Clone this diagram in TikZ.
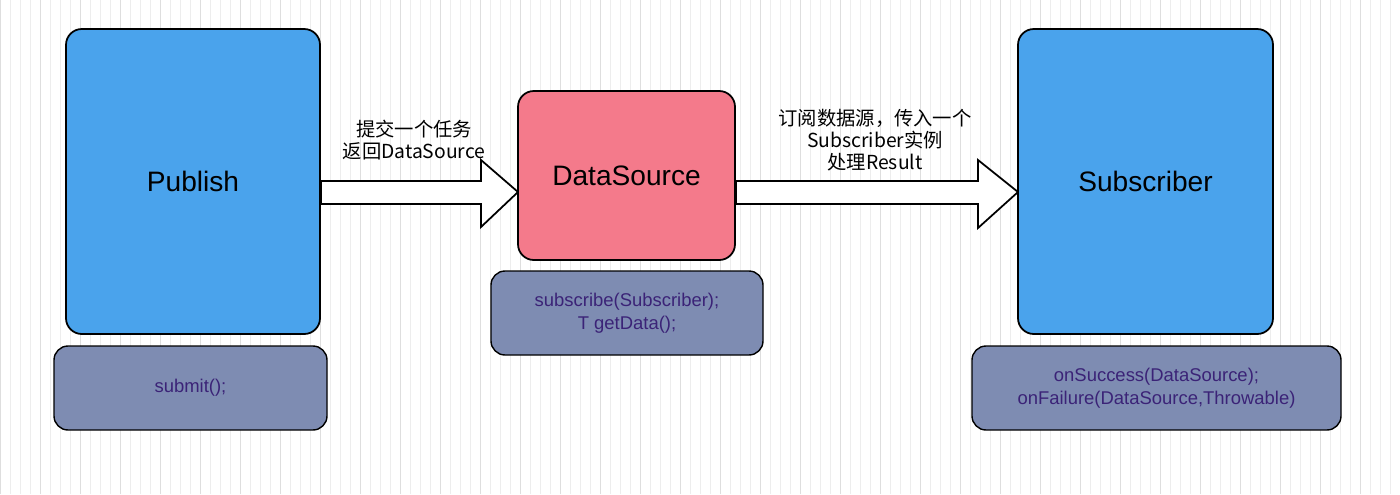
\documentclass[tikz,border=0pt]{standalone}
\usepackage{fontspec}
\setmainfont{Liberation Sans}
\newfontfamily\cjk{Noto Sans CJK SC}
\begin{document}
\begin{tikzpicture}[x=0.02cm,y=-0.02cm,
 big/.style={draw=black,line width=1pt,rounded corners=9pt,fill=blue1},
 small/.style={draw=black,line width=0.8pt,rounded corners=8pt,fill=slate,text=txt,font=\fontsize{10.5}{13}\selectfont,align=center},
 lab/.style={font=\fontsize{16}{19}\selectfont},
 alab/.style={font=\cjk\fontsize{11}{12.5}\selectfont,align=center},
 arr/.style={draw=black,line width=1pt,fill=white}]
\definecolor{blue1}{HTML}{4AA3EC}
\definecolor{pink1}{HTML}{F47A8B}
\definecolor{slate}{HTML}{7E8CB2}
\definecolor{txt}{HTML}{3B2377}
\useasboundingbox (0,0) rectangle (1400,494);
\fill[white] (0,0) rectangle (1400,494);
\draw[black!7,line width=0.3pt,step=10] (0,0) grid (1400,494);
\draw[black!13,line width=0.4pt,step=40] (0,0) grid (1400,494);
% arrows
\draw[arr] (321,181) -- (481,181) -- (481,160) -- (518,192) -- (481,227) -- (481,204) -- (321,204) -- cycle;
\draw[arr] (736,181) -- (978,181) -- (978,160) -- (1018,192) -- (978,228) -- (978,204) -- (736,204) -- cycle;
\node[big,minimum width=254*0.02cm,minimum height=305*0.02cm,lab] (pub) at (193,181.5) {Publish};
\node[big,fill=pink1,minimum width=217*0.02cm,minimum height=169*0.02cm,lab] (ds) at (626.5,175.5) {DataSource};
\node[big,minimum width=255*0.02cm,minimum height=305*0.02cm,lab] (sub) at (1145.5,181.5) {Subscriber};
\node[small,minimum width=273*0.02cm,minimum height=84*0.02cm] (s1) at (190.5,388) {submit();};
\node[small,minimum width=272*0.02cm,minimum height=84*0.02cm] (s2) at (627,313) {subscribe(Subscriber);\\T getData();};
\node[small,minimum width=369*0.02cm,minimum height=84*0.02cm] (s3) at (1156.5,388) {onSuccess(DataSource);\\onFailure(DataSource,Throwable)};
\node[alab] (l1) at (414,140) {提交一个任务\\返回DataSource};
\node[alab] (l2) at (875,140) {订阅数据源，传入一个\\Subscriber实例\\处理Result};
\end{tikzpicture}
\end{document}
